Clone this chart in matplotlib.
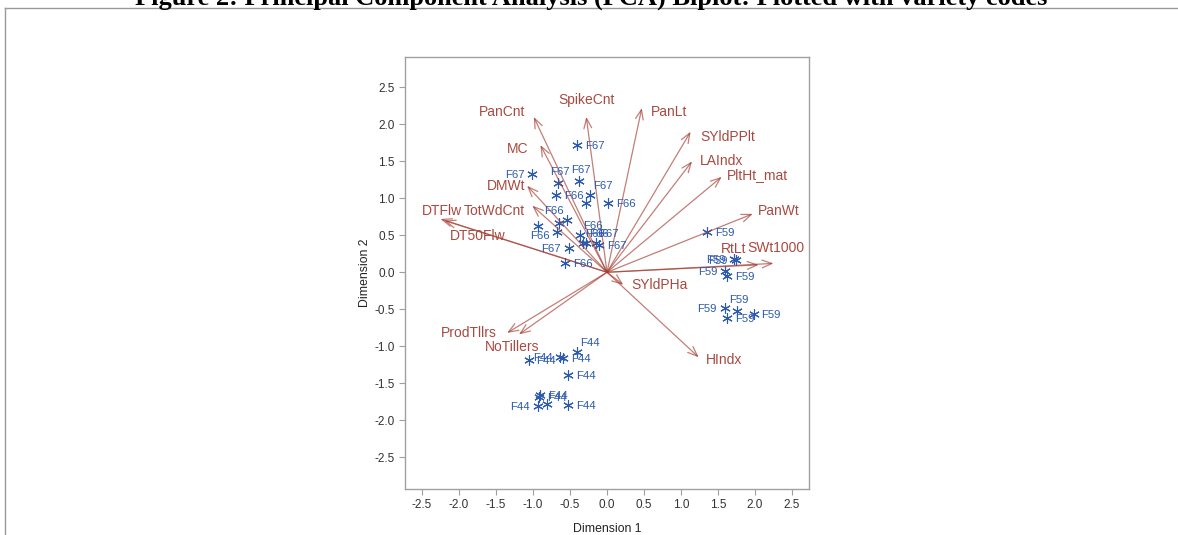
import matplotlib
matplotlib.use("Agg")
import matplotlib.pyplot as plt
from matplotlib.lines import Line2D

plt.rcParams['font.family'] = ['Liberation Sans', 'DejaVu Sans']

# ---------------- data ----------------
var_names = ['PanCnt', 'SpikeCnt', 'PanLt', 'SYldPPlt', 'LAIndx', 'PltHt_mat', 'PanWt',
             'RtLt', 'SWt1000', 'DTFlw', 'DT50Flw', 'TotWdCnt', 'DMWt', 'MC',
             'SYldPHa', 'HIndx', 'ProdTllrs', 'NoTillers']
var_dim1 = [-0.99, -0.28, 0.47, 1.13, 1.15, 1.55, 1.97,
            2.05, 2.25, -2.25, -2.20, -1.01, -1.08, -0.90,
            0.22, 1.24, -1.35, -1.19]
var_dim2 = [2.10, 2.10, 2.22, 1.90, 1.50, 1.29, 0.79,
            0.10, 0.12, 0.72, 0.70, 0.90, 1.17, 1.72,
            -0.17, -1.15, -0.82, -0.84]

obs_code = ['F67', 'F67', 'F67', 'F67', 'F67', 'F67', 'F67', 'F67',
            'F66', 'F66', 'F66', 'F66', 'F66', 'F66', 'F66', 'F66', 'F66', 'F66', 'F66',
            'F44', 'F44', 'F44', 'F44', 'F44', 'F44', 'F44', 'F44', 'F44', 'F44',
            'F59', 'F59', 'F59', 'F59', 'F59', 'F59', 'F59', 'F59', 'F59']
obs_dim1 = [-0.40, -1.01, -0.66, -0.38, -0.23, -0.52, -0.11, -0.15,
            -0.69, -0.28, 0.02, -0.54, -0.65, -0.93, -0.68, -0.36, -0.33, -0.28, -0.57,
            -0.41, -0.63, -0.59, -1.06, -0.53, -0.92, -0.90, -0.93, -0.81, -0.53,
            1.35, 1.71, 1.74, 1.60, 1.62, 1.59, 1.76, 1.98, 1.62]
obs_dim2 = [1.72, 1.33, 1.21, 1.24, 1.05, 0.33, 0.37, 0.40,
            1.05, 0.93, 0.94, 0.71, 0.66, 0.63, 0.55, 0.51, 0.39, 0.39, 0.13,
            -1.08, -1.15, -1.16, -1.19, -1.39, -1.68, -1.66, -1.81, -1.78, -1.80,
            0.54, 0.18, 0.16, 0.02, -0.05, -0.48, -0.53, -0.56, -0.62]

ticks = [-2.5, -2.0, -1.5, -1.0, -0.5, 0.0, 0.5, 1.0, 1.5, 2.0, 2.5]
title = "Figure 2: Principal Component Analysis (PCA) Biplot: Plotted with variety codes"

# ---------------- label placement (style) ----------------
var_lab = {  # ha, dx px, dy px
    'PanCnt': ('right', -8, 5), 'SpikeCnt': ('center', 0, 17), 'PanLt': ('left', 9, -4),
    'SYldPPlt': ('left', 10, -5), 'LAIndx': ('left', 8, 0), 'PltHt_mat': ('left', 5, 2),
    'PanWt': ('left', 5, 3), 'RtLt': ('left', -38, 16), 'SWt1000': ('left', -26, 15),
    'DTFlw': ('left', -19, 8), 'DT50Flw': ('left', 6, -16), 'TotWdCnt': ('right', -7, -5),
    'DMWt': ('right', -2, 0), 'MC': ('right', -12, -4), 'SYldPHa': ('left', 8, 0),
    'HIndx': ('left', 7, -3), 'ProdTllrs': ('right', -10, 0), 'NoTillers': ('center', -7, -13),
}
obs_pos = ['r', 'l', 'a', 'a', 'ar', 'l', 'r', 'ar',
           'r', '', 'r', 'al', '', 'b', '', 'ar', 'ar', 'ar', 'r',
           'ar', 'l', 'r', 'r', 'r', 'r', 'r', 'l', '', 'r',
           'r', 'l', 'l', 'l', 'r', 'l', 'a', 'r', 'r']
pos_map = {'r': ('left', 8, -1), 'l': ('right', -8, -1), 'a': ('center', 2, 11),
           'b': ('center', 2, -10), 'ar': ('left', 3, 9), 'al': ('right', -3, 9)}

VEC = '#A23A2E'
VEC_TXT = '#A84A40'
PT = '#2C5AAE'
GRAY = '#A0A0A0'

fig = plt.figure(figsize=(11.78, 5.35), dpi=100)
ax = fig.add_axes([405 / 1178, 1 - 489 / 535, 404 / 1178, 432 / 535])

# vectors
for name, x, y in zip(var_names, var_dim1, var_dim2):
    ax.annotate('', xy=(x, y), xytext=(0, 0),
                arrowprops=dict(arrowstyle='->,head_length=0.7,head_width=0.28',
                                color=VEC, lw=0.9, alpha=0.65, shrinkA=0, shrinkB=0),
                annotation_clip=False)
    ha, dx, dy = var_lab[name]
    ax.annotate(name, xy=(x, y), xytext=(dx, dy), textcoords='offset pixels',
                ha=ha, va='center', color=VEC_TXT, fontsize=10)

# observations
ax.plot(obs_dim1, obs_dim2, linestyle='none', marker=(6, 2, 0), markersize=7.5,
        markeredgewidth=0.8, color=PT)
for code, x, y, p in zip(obs_code, obs_dim1, obs_dim2, obs_pos):
    if not p:
        continue
    ha, dx, dy = pos_map[p]
    ax.annotate(code, xy=(x, y), xytext=(dx, dy), textcoords='offset pixels',
                ha=ha, va='center', color=PT, fontsize=8.2)

ax.set_xlim(-2.73, 2.73)
ax.set_ylim(-2.93, 2.91)
ax.set_xticks(ticks)
ax.set_yticks(ticks)
ax.set_xticklabels([f'{t:.1f}' for t in ticks])
ax.set_yticklabels([f'{t:.1f}' for t in ticks])
ax.tick_params(colors='#333333', labelsize=8.5, length=4, width=0.8)
ax.tick_params(axis='both', color=GRAY)
for s in ax.spines.values():
    s.set_color(GRAY)
    s.set_linewidth(1.0)
ax.set_xlabel('Dimension 1', fontsize=8.8, color='#222222', labelpad=8)
ax.set_ylabel('Dimension 2', fontsize=8.8, color='#222222', labelpad=2)

# outer frame and title
fig.add_artist(Line2D([5 / 1178, 5 / 1178], [0, 1 - 8 / 535], transform=fig.transFigure,
                      color='#999999', lw=1.0))
fig.add_artist(Line2D([5 / 1178, 1], [1 - 8 / 535, 1 - 8 / 535], transform=fig.transFigure,
                      color='#999999', lw=1.0))
fig.text(591 / 1178, 1 - 5 / 535, title, ha='center', va='baseline',
         family=['Liberation Serif', 'DejaVu Serif'], fontweight='bold', fontsize=19)

fig.savefig('out.png', dpi=100)
